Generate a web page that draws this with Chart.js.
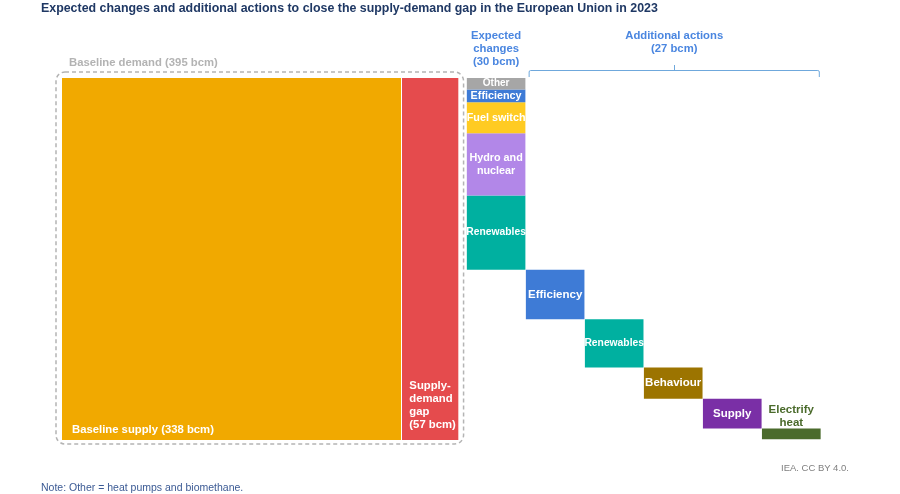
<!DOCTYPE html>
<html lang="en">
<head>
  <meta charset="UTF-8">
  <title>Supply-demand gap in the European Union, 2023</title>
  <script src="https://cdn.jsdelivr.net/npm/chart.js"></script>
  <style>
    body { margin: 0; background: #fff; font-family: "Liberation Sans", Arial, sans-serif; }
    #page { position: relative; width: 900px; height: 494px; overflow: hidden; }
    #title { position: absolute; left: 41px; top: 1px; font-size: 12.4px; font-weight: bold; color: #1f3864; white-space: nowrap; }
    #chart { position: absolute; left: 0; top: 0; }
    #note { position: absolute; left: 41px; top: 481px; font-size: 10.5px; color: #3b5a94; white-space: nowrap; }
    #source { position: absolute; left: 781px; top: 462px; font-size: 9.5px; color: #7f7f7f; white-space: nowrap; }
  </style>
</head>
<body>
<div id="page">
  <canvas id="chart" width="900" height="494"></canvas>
  <div id="title">Expected changes and additional actions to close the supply-demand gap in the European Union in 2023</div>
  <div id="note">Note: Other = heat pumps and biomethane.</div>
  <div id="source">IEA. CC BY 4.0.</div>
</div>

<script>
  // data (bcm)
  const baselineSupply = 338;
  const baselineDemand = 395;
  const gapValue = baselineDemand - baselineSupply;

  const expectedLabels = ['Other', 'Efficiency', 'Fuel switch', 'Hydro and nuclear', 'Renewables'];
  const expectedValues = [1.8, 2.0, 4.9, 9.8, 11.7];
  const expectedTotal = 30;

  const actionLabels = ['Efficiency', 'Renewables', 'Behaviour', 'Supply', 'Electrify heat'];
  const actionValues = [7.8, 7.6, 4.9, 4.7, 1.7];
  const actionTotal = 27;

  // colours
  const supplyColor = '#f1a900';
  const gapColor = '#e54b4d';
  const expectedColors = ['#a6a6a6', '#3e7bd6', '#ffcb22', '#b287e8', '#00b0a0'];
  const actionColors = ['#3e7bd6', '#00b0a0', '#9c7400', '#7a2fa6', '#4b6b2c'];

  // layout of the waterfall columns, in x units
  const colWidth = 58.8;
  const colStart = baselineDemand + 8;

  // build rectangles from the data
  const rects = [];
  rects.push({ x0: 0, x1: baselineSupply, y0: 0, y1: gapValue, color: supplyColor });
  rects.push({ x0: baselineSupply, x1: baselineDemand, y0: 0, y1: gapValue, color: gapColor });
  let level = gapValue;
  expectedValues.forEach((v, i) => {
    rects.push({ x0: colStart, x1: colStart + colWidth, y0: level - v, y1: level, color: expectedColors[i],
      label: expectedLabels[i], size: i == 0 ? 10 : (expectedLabels[i] == 'Renewables' ? 10.3 : 10.8) });
    level -= v;
  });
  actionValues.forEach((v, i) => {
    const x0 = colStart + (i + 1) * colWidth;
    rects.push({ x0: x0, x1: x0 + colWidth, y0: level - v, y1: level, color: actionColors[i],
      label: actionLabels[i], size: actionLabels[i] == 'Renewables' ? 10.3 : 11.5, outside: i == actionValues.length - 1 });
    level -= v;
  });

  const datasets = rects.map(r => ({
    data: [{ x: r.x0, y: r.y1 }, { x: r.x1, y: r.y1 }],
    fill: { value: r.y0 },
    backgroundColor: r.color,
    borderWidth: 0,
    pointRadius: 0,
    tension: 0
  }));

  function wrapLabel(text) {
    if (text == 'Hydro and nuclear') return ['Hydro and', 'nuclear'];
    if (text == 'Electrify heat') return ['Electrify', 'heat'];
    return [text];
  }

  function drawLines(ctx, lines, x, y, lh) {
    const start = y - (lines.length - 1) * lh / 2;
    lines.forEach((t, i) => ctx.fillText(t, x, start + i * lh));
  }

  const decorations = {
    id: 'decorations',
    afterDatasetsDraw(chart) {
      const ctx = chart.ctx;
      const xs = chart.scales.x, ys = chart.scales.y;
      ctx.save();

      // white separator between supply and gap
      ctx.strokeStyle = '#ffffff';
      ctx.lineWidth = 1;
      ctx.beginPath();
      ctx.moveTo(Math.round(xs.getPixelForValue(baselineSupply)) + 0.5, ys.getPixelForValue(gapValue));
      ctx.lineTo(Math.round(xs.getPixelForValue(baselineSupply)) + 0.5, ys.getPixelForValue(0));
      ctx.stroke();

      // dashed baseline demand box
      const bl = xs.getPixelForValue(0) - 6, br = xs.getPixelForValue(baselineDemand) + 5;
      const bt = ys.getPixelForValue(gapValue) - 6, bb = ys.getPixelForValue(0) + 4;
      ctx.strokeStyle = '#b4b4b4';
      ctx.lineWidth = 1.5;
      ctx.setLineDash([4, 3]);
      ctx.beginPath();
      ctx.roundRect(bl, bt, br - bl, bb - bt, 9);
      ctx.stroke();
      ctx.setLineDash([]);

      ctx.textBaseline = 'middle';
      ctx.font = 'bold 11.3px "Liberation Sans", Arial, sans-serif';
      ctx.fillStyle = '#b3b3b3';
      ctx.textAlign = 'left';
      ctx.fillText('Baseline demand (' + baselineDemand + ' bcm)', bl + 13, bt - 9);

      ctx.fillStyle = '#ffffff';
      ctx.fillText('Baseline supply (' + baselineSupply + ' bcm)', xs.getPixelForValue(0) + 10, ys.getPixelForValue(0) - 10);
      drawLines(ctx, ['Supply-', 'demand', 'gap', '(' + gapValue + ' bcm)'],
        xs.getPixelForValue(baselineSupply) + 8, ys.getPixelForValue(0) - 35, 13);

      // block labels
      ctx.textAlign = 'center';
      rects.forEach(r => {
        if (!r.label) return;
        ctx.font = 'bold ' + r.size + 'px "Liberation Sans", Arial, sans-serif';
        const cx = (xs.getPixelForValue(r.x0) + xs.getPixelForValue(r.x1)) / 2;
        if (r.outside) {
          ctx.fillStyle = r.color;
          drawLines(ctx, wrapLabel(r.label), cx, ys.getPixelForValue(r.y1) - 12, 12.5);
        } else {
          ctx.fillStyle = '#ffffff';
          const cy = (ys.getPixelForValue(r.y0) + ys.getPixelForValue(r.y1)) / 2;
          drawLines(ctx, wrapLabel(r.label), cx, cy, 13.5);
        }
      });

      // headers
      ctx.font = 'bold 11.3px "Liberation Sans", Arial, sans-serif';
      ctx.fillStyle = '#4a86e0';
      const ex = xs.getPixelForValue(colStart + colWidth / 2);
      drawLines(ctx, ['Expected', 'changes', '(' + expectedTotal + ' bcm)'], ex, 49, 13.3);

      const a0 = xs.getPixelForValue(colStart + colWidth) + 3;
      const a1 = xs.getPixelForValue(colStart + colWidth * (actionValues.length + 1)) - 1;
      const am = (a0 + a1) / 2;
      drawLines(ctx, ['Additional actions', '(' + actionTotal + ' bcm)'], am, 42.5, 13.3);

      // bracket
      ctx.strokeStyle = '#6fa8dc';
      ctx.lineWidth = 1;
      ctx.beginPath();
      ctx.moveTo(a0 + 0.5, 77);
      ctx.lineTo(a0 + 0.5, 72);
      ctx.quadraticCurveTo(a0 + 0.5, 70.5, a0 + 2, 70.5);
      ctx.lineTo(a1 - 2, 70.5);
      ctx.quadraticCurveTo(a1 - 0.5, 70.5, a1 - 0.5, 72);
      ctx.lineTo(a1 - 0.5, 77);
      ctx.moveTo(Math.round(am) + 0.5, 70.5);
      ctx.lineTo(Math.round(am) + 0.5, 65);
      ctx.stroke();

      ctx.restore();
    }
  };

  new Chart(document.getElementById('chart'), {
    type: 'line',
    data: { datasets: datasets },
    options: {
      responsive: false,
      animation: false,
      events: [],
      layout: { padding: { left: 62, right: 79, top: 78, bottom: 54 } },
      plugins: { legend: { display: false }, tooltip: { enabled: false }, title: { display: false } },
      scales: {
        x: { type: 'linear', display: false, min: 0, max: 756 },
        y: { type: 'linear', display: false, min: 0, max: gapValue }
      }
    },
    plugins: [decorations]
  });
</script>
</body>
</html>
